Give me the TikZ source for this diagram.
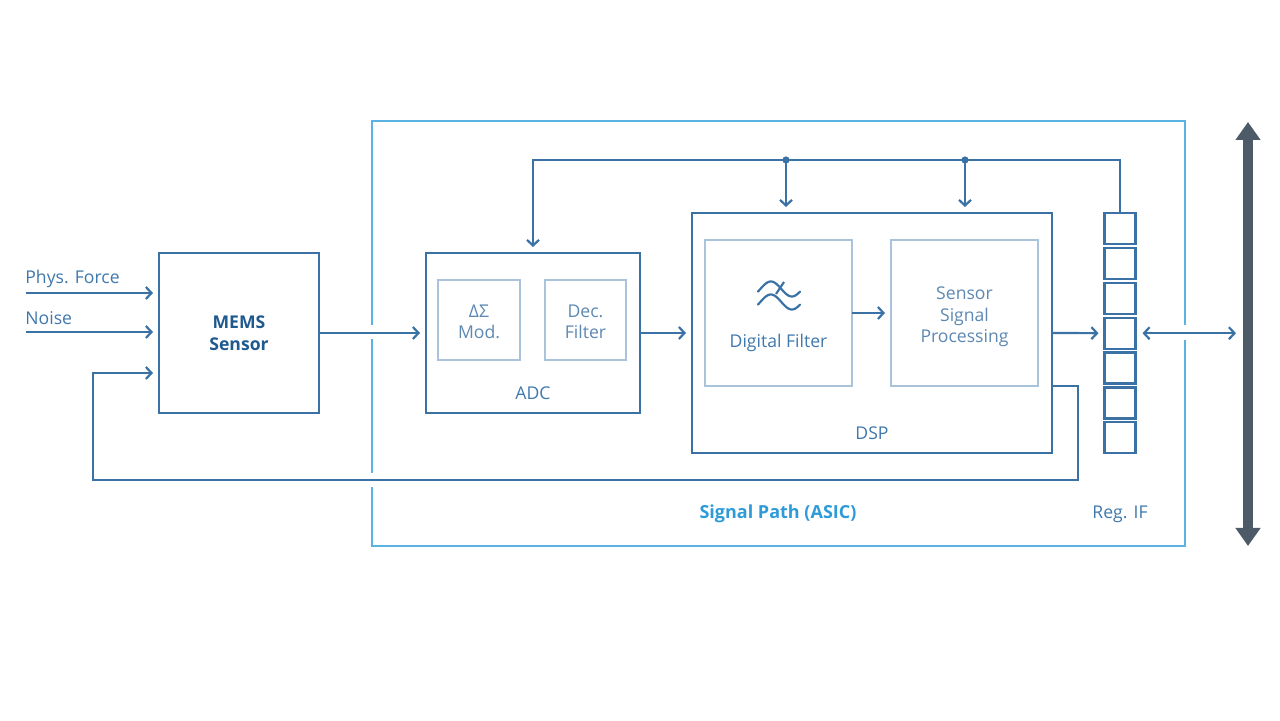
\documentclass[tikz,border=0pt]{standalone}
\usepackage{fontspec}
\setmainfont{Open Sans}
\usetikzlibrary{arrows.meta,calc}
\definecolor{boxline}{HTML}{3A72A6}
\definecolor{maintext}{HTML}{3F78AC}
\definecolor{innerline}{HTML}{A8C3DB}
\definecolor{innertext}{HTML}{5C88B2}
\definecolor{asicline}{HTML}{5BB3E4}
\definecolor{asictext}{HTML}{2E9BD8}
\definecolor{buscol}{HTML}{4D5A68}
\definecolor{memstext}{HTML}{1F5A8E}
\tikzset{
  blk/.style={draw=boxline, line width=1.1pt, inner sep=0pt, outer sep=0pt},
  inner/.style={draw=innerline, line width=0.9pt, inner sep=0pt, outer sep=0pt},
  intext/.style={text=innertext, align=center, inner sep=0pt, font=\fontsize{8.8}{10.75}\selectfont},
  regbox/.style={draw=boxline, line width=1.1pt, inner sep=0pt, outer sep=0pt, minimum width=15.5pt, minimum height=15.5pt},
  conn/.style={draw=boxline, line width=1.1pt},
  arr/.style={conn, -{Straight Barb[length=2.8pt,width=6pt,line width=1.1pt]}, shorten >=3pt},
  lbl/.style={text=maintext, font=\fontsize{8.8}{10.75}\selectfont, align=center, inner sep=0pt},
}
\begin{document}
\begin{tikzpicture}[x=0.5pt,y=-0.5pt]
\useasboundingbox (0,0) rectangle (1280,721);
% ASIC frame
\node[draw=asicline, line width=1pt, minimum width=406.5pt, minimum height=212.5pt, inner sep=0pt, outer sep=0pt] (asic) at (778.5,333.5) {};
% blocks
\node[blk, minimum width=80pt, minimum height=80pt] (mems) at (239,333) {};
\node[font=\bfseries\fontsize{8.8}{10.75}\selectfont, text=memstext, align=center] (memst) at (239,333) {MEMS\\Sensor};
\node[blk, minimum width=107pt, minimum height=80pt] (adc) at (533,333) {};
\node[inner, minimum width=41pt, minimum height=40pt] (dsm) at (479,320) {};
\node[intext] (dsmt) at (479,322) {ΔΣ\\Mod.};
\node[inner, minimum width=40.5pt, minimum height=40pt] (dec) at (585.5,320) {};
\node[intext] (dect) at (585.5,322) {Dec.\\Filter};
\node[lbl] (adct) at (533,393) {ADC};
\node[blk, minimum width=180pt, minimum height=120pt] (dsp) at (872,333) {};
\node[inner, minimum width=73.5pt, minimum height=73pt] (df) at (778.5,313) {};
\node[lbl] (dft) at (778.5,343) {Digital Filter};
\node[inner, minimum width=73.5pt, minimum height=73pt] (ssp) at (964.5,313) {};
\node[intext] (sspt) at (964.5,317) {Sensor\\Signal\\Processing};
\node[lbl] (dspt) at (872,433) {DSP};
\foreach \i in {1,...,7}{
  \node[regbox] (reg\i) at (1120,{228.5+(\i-1)*34.9}) {};
}
\node[text=asictext, font=\bfseries\fontsize{9}{10.75}\selectfont, inner sep=0pt] (spt) at (778,514) {Signal Path (ASIC)};
\node[lbl] (regt) at (1120,514) {Reg. IF};
% filter symbol
\draw[boxline, line width=1.1pt, line cap=round] plot[domain=-20:340, samples=50] ({758+42*(\x+20)/360}, {289-7.5*sin(\x)});
\draw[boxline, line width=1.1pt, line cap=round] plot[domain=-20:340, samples=50] ({758+42*(\x+20)/360}, {302-7.5*sin(\x)});
\draw[boxline, line width=1.1pt] (776,294) -- (784,282);
% inputs
\coordinate (pfs) at (26,293);
\coordinate (nss) at (26,332);
\node[lbl, anchor=base west] (pft) at (25,284) {Phys. Force};
\node[lbl, anchor=base west] (nst) at (25,325) {Noise};
\draw[arr] (pfs) -- (pfs -| mems.west);
\draw[arr] (nss) -- (nss -| mems.west);
% gaps in ASIC frame
\fill[white] (368,325) rectangle (376,339);
\fill[white] (368,473) rectangle (376,487);
\fill[white] (1181,325) rectangle (1189,340);
% main path
\draw[arr] (mems.east) -- (adc.west);
\draw[arr] (adc.east) -- (dsp.west);
\draw[arr] (df.east) -- (ssp.west);
\draw[arr] (dsp.east) -- (reg4.west);
% top feedback
\coordinate (fbl) at (533,160);
\coordinate (d1) at (786,160);
\coordinate (d2) at (965,160);
\draw[arr] (reg1.north) -- (reg1.north |- fbl) -- (fbl) -- (adc.north);
\fill[boxline] (d1) circle (1.8pt);
\fill[boxline] (d2) circle (1.8pt);
\draw[arr] (d1) -- (d1 |- dsp.north);
\draw[arr] (d2) -- (d2 |- dsp.north);
% bottom feedback
\coordinate (c1) at (1078,480);
\coordinate (c2) at (93,480);
\coordinate (c3) at (93,373);
\draw[arr] (dsp.east |- df.south) -| (c1) -- (c2) -- (c3) -- (c3 -| mems.west);
% bus
\coordinate (bustop) at (1248,122);
\coordinate (busbot) at (1248,546);
\draw[buscol, line width=5pt, {Triangle[length=9pt,width=12pt]}-{Triangle[length=9pt,width=12pt]}] (bustop) -- (busbot);
\draw[conn, {Straight Barb[length=2.8pt,width=6pt,line width=1.1pt]}-{Straight Barb[length=2.8pt,width=6pt,line width=1.1pt]}, shorten <=3.5pt, shorten >=6pt] (reg4.east) -- (reg4.east -| bustop);
\end{tikzpicture}
\end{document}
